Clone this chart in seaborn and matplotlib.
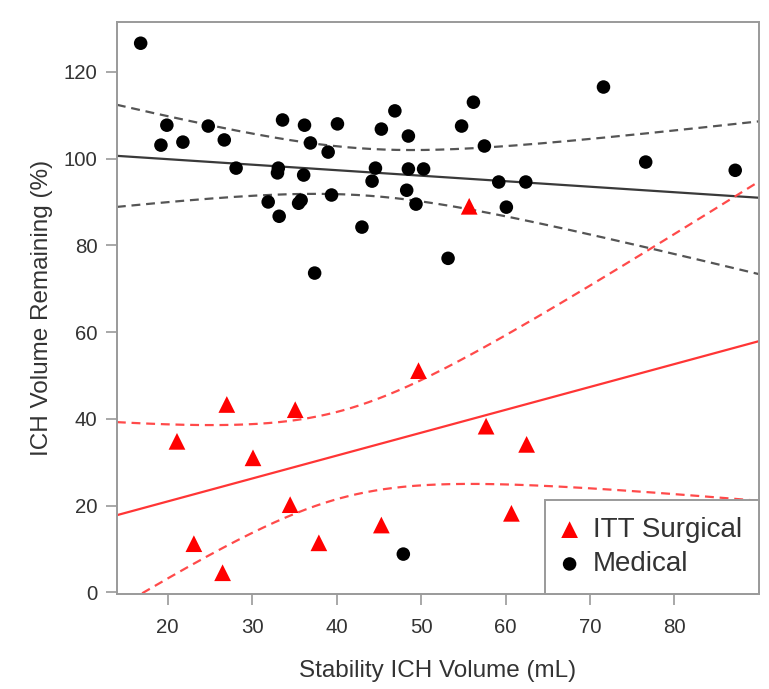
import math
import numpy as np
import matplotlib
matplotlib.use('Agg')
import matplotlib.pyplot as plt
import seaborn as sns

# values
med_x = [16.8, 19.2, 19.9, 21.8, 24.8, 26.7, 28.1, 31.9, 33.1, 33.0, 33.2, 33.6,
         35.5, 35.8, 36.1, 36.2, 36.9, 37.4, 39.0, 39.4, 40.1, 43.0, 44.2, 44.6,
         45.3, 46.9, 48.5, 48.5, 48.3, 49.4, 50.3, 47.9, 53.2, 54.8, 56.2, 57.5,
         59.2, 60.1, 62.4, 71.6, 76.6, 87.2]
med_y = [126.6, 103.1, 107.7, 103.8, 107.5, 104.3, 97.8, 90.0, 97.8, 96.7, 86.7, 108.9,
         89.7, 90.4, 96.2, 107.7, 103.6, 73.6, 101.5, 91.6, 108.0, 84.2, 94.8, 97.8,
         106.8, 111.0, 105.2, 97.6, 92.7, 89.5, 97.6, 8.8, 77.0, 107.5, 113.0, 102.9,
         94.6, 88.8, 94.6, 116.5, 99.2, 97.3]
surg_x = [21.1, 27.0, 35.1, 30.1, 34.5, 23.1, 26.5, 37.9, 45.3, 49.7, 57.7, 62.5, 60.7, 55.7]
surg_y = [34.8, 43.3, 42.1, 31.0, 20.2, 11.2, 4.5, 11.4, 15.5, 51.1, 38.3, 34.1, 18.2, 89.0]
med_level = 0.95
surg_level = 0.90


def r_lim(v):
    lo, hi = min(v), max(v)
    d = 0.04*(hi-lo)
    return lo-d, hi+d


def t_quantile(p, df):
    g = np.linspace(0, 40, 400001)
    c = math.exp(math.lgamma((df+1)/2) - math.lgamma(df/2)) / math.sqrt(df*math.pi)
    pdf = c*(1 + g**2/df)**(-(df+1)/2)
    cdf = 0.5 + np.concatenate([[0], np.cumsum((pdf[1:]+pdf[:-1])/2*np.diff(g))])
    return float(np.interp(p, cdf, g))


def fit_band(x, y, xs, level):
    x = np.asarray(x); y = np.asarray(y); n = len(x)
    b, a = np.polyfit(x, y, 1)
    res = y - (a + b*x)
    s = np.sqrt(res @ res / (n-2))
    se = s*np.sqrt(1/n + (xs-x.mean())**2/((x-x.mean())**2).sum())
    t = t_quantile(0.5 + level/2, n-2)
    fit = a + b*xs
    return fit, fit-t*se, fit+t*se


sns.set_style('ticks')
plt.rcParams['font.family'] = ['Liberation Sans', 'DejaVu Sans']

fig = plt.figure(figsize=(7.69, 6.89), dpi=100)
ax = fig.add_axes([0.152, 0.138, 0.835, 0.830])

xlim = r_lim(med_x + surg_x)
ylim = r_lim(med_y + surg_y)
xs = np.linspace(xlim[0], xlim[1], 400)

dash = (0, (4, 2.6))
for x, y, lvl, col_l, col_d in [(med_x, med_y, med_level, '#3a3a3a', '#555555'),
                                (surg_x, surg_y, surg_level, '#ff3535', '#ff4a4a')]:
    fit, lo, hi = fit_band(x, y, xs, lvl)
    ax.plot(xs, fit, color=col_l, lw=1.6, zorder=2)
    ax.plot(xs, lo, color=col_d, lw=1.6, ls=dash, zorder=2)
    ax.plot(xs, hi, color=col_d, lw=1.6, ls=dash, zorder=2)

sns.scatterplot(x=surg_x, y=surg_y, marker='^', s=145, color='red', edgecolor='none',
                ax=ax, label='ITT Surgical', zorder=3)
sns.scatterplot(x=med_x, y=med_y, marker='o', s=95, color='black', edgecolor='none',
                ax=ax, label='Medical', zorder=3)

ax.set_xlim(xlim); ax.set_ylim(ylim)
ax.set_xticks([20, 30, 40, 50, 60, 70, 80])
ax.set_yticks([0, 20, 40, 60, 80, 100, 120])
for sp in ax.spines.values():
    sp.set_visible(True); sp.set_color('#9a9a9a'); sp.set_linewidth(1.4)
ax.tick_params(direction='out', length=8, width=1.2, color='#9a9a9a',
               labelsize=14.7, labelcolor='#333333')
ax.tick_params(axis='x', pad=9)
ax.tick_params(axis='y', pad=6)
ax.set_xlabel('Stability ICH Volume (mL)', fontsize=17.5, color='#333333', labelpad=17)
ax.set_ylabel('ICH Volume Remaining (%)', fontsize=17.5, color='#333333', labelpad=8)

leg = ax.legend(loc='lower right', fontsize=20, borderaxespad=0, fancybox=False,
                framealpha=1, edgecolor='#9a9a9a', borderpad=0.6, handlelength=0.6,
                handletextpad=0.55, labelspacing=0.3)
leg.get_frame().set_linewidth(1.4)
for t in leg.get_texts():
    t.set_color('#333333')

fig.savefig('out.png', dpi=100)
